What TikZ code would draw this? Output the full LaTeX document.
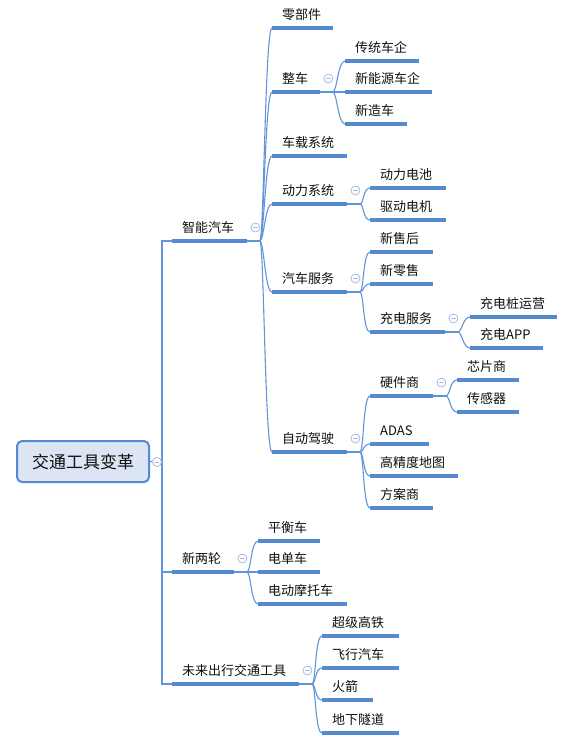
\documentclass[tikz,border=0pt]{standalone}
\usepackage{fontspec}
\setmainfont{Noto Sans CJK SC}
\usetikzlibrary{calc}
\definecolor{ulc}{RGB}{84,139,208}
\definecolor{cnc}{RGB}{98,148,218}
\definecolor{fdc}{RGB}{165,184,232}
\definecolor{rootfill}{RGB}{219,229,243}
\definecolor{txc}{RGB}{15,15,15}
\tikzset{
  topic/.style={anchor=south west, inner xsep=10pt, inner ysep=4pt, text height=11pt, text depth=4pt,
    align=left, text=txc, font=\fontsize{13pt}{15pt}\selectfont},
  uline/.style={draw=ulc, line width=3.2pt},
  conn/.style={draw=cnc, line width=1.1pt},
  fold/.style={circle, draw=fdc, fill=white, line width=0.8pt, minimum size=9pt, inner sep=0pt,
    path picture={\draw[fdc, line width=0.8pt] ([xshift=-2.3pt]path picture bounding box.center) -- ([xshift=2.3pt]path picture bounding box.center);}},
  rootbox/.style={draw=ulc, fill=rootfill, line width=2pt, rounded corners=5pt, minimum width=132pt,
    minimum height=41pt, inner sep=0pt, text=txc, font=\fontsize{17pt}{20pt}\selectfont}
}
\begin{document}
\begin{tikzpicture}[x=1pt,y=-1pt]
\useasboundingbox (0,0) rectangle (575,744);
% root
\node[rootbox] (root) at (83,461.5) {交通工具变革};
\coordinate (spine) at (162,462);
% level 1
\node[topic, text width=55pt] (zn) at (172,241) {智能汽车};
\node[topic, text width=42pt] (xll) at (172,572) {新两轮};
\node[topic, text width=107pt] (wl) at (172,684) {未来出行交通工具};
% level 2 : 智能汽车
\node[topic, text width=41pt] (lbj) at (272,28) {零部件};
\node[topic, text width=28pt] (zc) at (272,92) {整车};
\node[topic, text width=55pt] (czxt) at (272,156) {车载系统};
\node[topic, text width=55pt] (dlxt) at (272,204) {动力系统};
\node[topic, text width=55pt] (qcfw) at (272,292) {汽车服务};
\node[topic, text width=55pt] (zdjs) at (272,452) {自动驾驶};
% 整车
\node[topic, text width=54pt] (ctcq) at (345,61) {传统车企};
\node[topic, text width=67pt] (xnyc) at (345,92) {新能源车企};
\node[topic, text width=42pt] (xzc) at (345,124) {新造车};
% 动力系统
\node[topic, text width=56pt] (dldc) at (370,188) {动力电池};
\node[topic, text width=56pt] (qddj) at (370,220) {驱动电机};
% 汽车服务
\node[topic, text width=43pt] (xsh) at (370,252) {新售后};
\node[topic, text width=43pt] (xls) at (370,284) {新零售};
\node[topic, text width=55pt] (cdfw) at (370,332) {充电服务};
% 充电服务
\node[topic, text width=67pt] (cdz) at (470,317) {充电桩运营};
\node[topic, text width=53pt] (cdapp) at (470,348) {充电APP};
% 自动驾驶
\node[topic, text width=43pt] (yjs) at (370,396) {硬件商};
\node[topic, text width=39pt] (adas) at (370,444) {ADAS};
\node[topic, text width=68pt] (gjd) at (370,476) {高精度地图};
\node[topic, text width=43pt] (fas) at (370,508) {方案商};
% 硬件商
\node[topic, text width=42pt] (xps) at (457,380) {芯片商};
\node[topic, text width=42pt] (cgq) at (457,412) {传感器};
% 新两轮
\node[topic, text width=42pt] (phc) at (258,541) {平衡车};
\node[topic, text width=42pt] (ddc) at (258,572) {电单车};
\node[topic, text width=69pt] (ddmtc) at (258,604) {电动摩托车};
% 未来出行交通工具
\node[topic, text width=57pt] (cjgt) at (322,636) {超级高铁};
\node[topic, text width=57pt] (fxqc) at (322,668) {飞行汽车};
\node[topic, text width=31pt] (hj) at (322,700) {火箭};
\node[topic, text width=57pt] (dxsd) at (322,733) {地下隧道};

% root spine (elbow connectors)
\draw[conn] (root.east) -- (spine);
\foreach \n in {zn,xll,wl}
  \draw[conn] (spine) |- (\n.south west);

% junction stubs
\foreach \n in {zn,zc,dlxt,qcfw,cdfw,zdjs,yjs,xll,wl}
  \draw[conn] (\n.south east) -- ++(12.5,0) coordinate (\n-j);

% curved connectors
\foreach \p/\c in {zn/lbj,zn/zc,zn/czxt,zn/dlxt,zn/qcfw,zn/zdjs,
                   zc/ctcq,zc/xnyc,zc/xzc,
                   dlxt/dldc,dlxt/qddj,
                   qcfw/xsh,qcfw/xls,qcfw/cdfw,
                   cdfw/cdz,cdfw/cdapp,
                   zdjs/yjs,zdjs/adas,zdjs/gjd,zdjs/fas,
                   yjs/xps,yjs/cgq,
                   xll/phc,xll/ddc,xll/ddmtc,
                   wl/cjgt,wl/fxqc,wl/hj,wl/dxsd}
  \draw[conn] (\p-j) .. controls +(4,0) and +(-7,0) .. (\c.south west);

% underlines
\foreach \n in {zn,xll,wl,lbj,zc,czxt,dlxt,qcfw,zdjs,ctcq,xnyc,xzc,dldc,qddj,xsh,xls,cdfw,cdz,cdapp,yjs,adas,gjd,fas,xps,cgq,phc,ddc,ddmtc,cjgt,fxqc,hj,dxsd}
  \draw[uline] (\n.south west) -- (\n.south east);

% fold buttons
\node[fold] (f-root) at (157,462) {};
\foreach \n in {zn,zc,dlxt,qcfw,cdfw,zdjs,yjs,xll,wl}
  \node[fold] (f-\n) at ($(\n.south east)+(8,-13.5)$) {};
\end{tikzpicture}
\end{document}
